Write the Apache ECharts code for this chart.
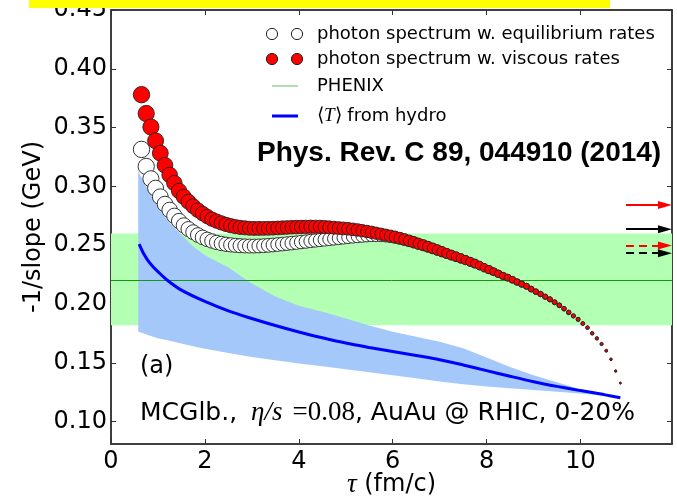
<!DOCTYPE html>
<html lang="en">
<head>
<meta charset="utf-8">
<title>-1/slope vs tau</title>
<script src="https://cdn.jsdelivr.net/npm/echarts@6.0.0/dist/echarts.min.js"></script>
<style>
  html, body { margin: 0; padding: 0; background: #fff; }
  #chart { width: 677px; height: 499px; }
</style>
</head>
<body>
<div id="chart"></div>
<script type="text/javascript">
// photon slopes, one point every 0.1 fm/c
var tauPts = [
  0.65,0.75,0.85,0.95,1.05,1.15,1.25,1.35,1.45,1.55,
  1.65,1.75,1.85,1.95,2.05,2.15,2.25,2.35,2.45,2.55,
  2.65,2.75,2.85,2.95,3.05,3.15,3.25,3.35,3.45,3.55,
  3.65,3.75,3.85,3.95,4.05,4.15,4.25,4.35,4.45,4.55,
  4.65,4.75,4.85,4.95,5.05,5.15,5.25,5.35,5.45,5.55,
  5.65,5.75,5.85,5.95,6.05,6.15,6.25,6.35,6.45,6.55,
  6.65,6.75,6.85,6.95,7.05,7.15,7.25,7.35,7.45,7.55,
  7.65,7.75,7.85,7.95,8.05,8.15,8.25,8.35,8.45,8.55,
  8.65,8.75,8.85,8.95,9.05,9.15,9.25,9.35,9.45,9.55,
  9.65,9.75,9.85,9.95,10.05,10.15,10.25,10.35,10.45,10.55,
  10.65,10.75,10.85
];
var viscousRates = [
  0.378,0.362,0.3505,0.3388,0.3283,0.3180,0.3098,0.3028,0.2962,0.2912,
  0.2870,0.2832,0.2798,0.2770,0.2744,0.2722,0.2705,0.2690,0.2677,0.2666,
  0.2658,0.2652,0.2648,0.2644,0.2643,0.2643,0.2643,0.2644,0.2645,0.2647,
  0.2649,0.2651,0.2653,0.2654,0.2655,0.2656,0.2657,0.2657,0.2657,0.2655,
  0.2652,0.2649,0.2646,0.2643,0.2640,0.2635,0.2630,0.2624,0.2617,0.2610,
  0.2602,0.2594,0.2586,0.2578,0.2570,0.2560,0.2549,0.2538,0.2526,0.2513,
  0.2501,0.2488,0.2474,0.2460,0.2446,0.2431,0.2417,0.2403,0.2389,0.2375,
  0.2360,0.2345,0.2328,0.2310,0.2293,0.2276,0.2258,0.2240,0.2225,0.2207,
  0.2188,0.2170,0.2152,0.2128,0.2106,0.2086,0.2063,0.2041,0.2016,0.1990,
  0.1961,0.1930,0.1900,0.1871,0.1835,0.1800,0.1752,0.1709,0.1661,0.1604,
  0.1531,0.1431,0.1329
];
var equilRates = [
  0.3315,0.3170,0.3065,0.2985,0.2912,0.2850,0.2800,0.2750,0.2706,0.2669,
  0.2638,0.2611,0.2587,0.2567,0.2550,0.2536,0.2524,0.2515,0.2508,0.2503,
  0.2499,0.2496,0.2494,0.2493,0.2493,0.2494,0.2496,0.2499,0.2502,0.2506,
  0.2510,0.2514,0.2518,0.2522,0.2527,0.2531,0.2536,0.2540,0.2544,0.2548,
  0.2552,0.2556,0.2560,0.2564,0.2568,0.2572,0.2575,0.2578,0.2581,0.2583,
  0.2583,0.2582,0.2579,0.2574,0.2567,0.2558,0.2547,0.2536,0.2524,0.2511,
  0.2499,0.2486,0.2472,0.2458,0.2444,0.2429,0.2415,0.2401,0.2387,0.2373,
  0.2358,0.2343,0.2326,0.2308,0.2291,0.2274,0.2256,0.2238,0.2223,0.2205,
  0.2186,0.2168,0.2150,0.2126,0.2104,0.2084,0.2061,0.2039,0.2014,0.1988,
  0.1959,0.1928,0.1898,0.1869,0.1833,0.1798,0.1750,0.1707,0.1659,0.1602,
  0.1529,0.1429,0.1327
];

// <T> from hydro and its spread
var hydroTau = [0.6,0.7,0.8,0.9,1.0,1.2,1.5,2.0,2.5,3.0,3.5,4.0,4.5,5.0,5.5,6.0,6.5,7.0,7.5,8.0,8.5,9.0,9.5,10.0,10.5,10.85];
var hydroT   = [0.251,0.2425,0.2362,0.2315,0.2275,0.2202,0.2118,0.2022,0.1942,0.1877,0.1817,0.1762,0.1713,0.1668,0.1631,0.1597,0.1563,0.1527,0.1482,0.1434,0.1386,0.1340,0.1300,0.1264,0.1230,0.1204];
var bandTau = [0.58,0.8,1.0,1.25,1.5,1.75,2.0,2.5,3.0,3.5,4.0,4.5,5.0,5.5,6.0,6.5,7.0,7.5,8.0,8.5,9.0,9.5,10.0,10.5,10.85];
var bandHi  = [0.313,0.296,0.282,0.269,0.259,0.249,0.2415,0.231,0.2175,0.2065,0.1985,0.1935,0.1878,0.1818,0.1765,0.1722,0.1680,0.1625,0.1545,0.1465,0.1395,0.1335,0.1275,0.1235,0.1206];
var bandLo  = [0.1766,0.1735,0.171,0.1688,0.1665,0.1642,0.162,0.1583,0.155,0.1522,0.1495,0.147,0.1445,0.142,0.1395,0.137,0.1342,0.1318,0.1298,0.1283,0.127,0.1255,0.124,0.122,0.1205];

// PHENIX measurement
var phenixMid = 0.221;
var phenixLo = 0.182;
var phenixHi = 0.260;

// arrows on the right edge
var arrowVals = [0.2843, 0.2636, 0.2497, 0.2432];
var arrowFrom = 10.97;
var arrowTo = 11.8;

var xTicks = [0, 2, 4, 6, 8, 10];
var yTicks = [0.10, 0.15, 0.20, 0.25, 0.30, 0.35, 0.40, 0.45];

// marker size shrinks with tau (style only)
var sizeStops = [[0.6,16.5],[2,14.5],[4,13.5],[6,12],[7,10.3],[8,8.2],[8.5,6.8],[9,5.7],[9.5,4.8],[10,3.8],[10.5,2.9],[10.9,1.7]];
function dotSize(val) {
    var t = val[0];
    for (var i = 1; i < sizeStops.length; i++) {
        if (t <= sizeStops[i][0]) {
            var a = sizeStops[i - 1], b = sizeStops[i];
            return a[1] + (b[1] - a[1]) * (t - a[0]) / (b[0] - a[0]);
        }
    }
    return sizeStops[sizeStops.length - 1][1];
}
function pairs(xs, ys) {
    return xs.map(function (x, i) { return [x, ys[i]]; });
}

var arrowColors = ['#ff0000', '#000000', '#ff0000', '#000000'];
var arrowDashed = [false, false, true, true];

var axisColor = '#333';
var SANS = 'DejaVu Sans';
var SERIF = 'Liberation Serif';

function frameX(pos, showLabel) {
    return {
        type: 'value', position: pos, min: 0, max: 11.95,
        axisLine: { show: true, onZero: false, lineStyle: { color: axisColor, width: 1.5 } },
        axisTick: { show: true, inside: true, length: 5, customValues: xTicks, lineStyle: { color: axisColor } },
        axisLabel: { show: showLabel, customValues: xTicks, fontSize: 24, fontFamily: SANS, color: '#000', margin: 6 },
        splitLine: { show: false }
    };
}
function frameY(pos, showLabel) {
    return {
        type: 'value', position: pos, min: 0.081, max: 0.45,
        axisLine: { show: true, onZero: false, lineStyle: { color: axisColor, width: 1.5 } },
        axisTick: { show: true, inside: true, length: 5, customValues: yTicks, lineStyle: { color: axisColor } },
        axisLabel: {
            show: showLabel, customValues: yTicks, fontSize: 24, fontFamily: SANS, color: '#000', margin: 4,
            formatter: function (v) { return v.toFixed(2); }
        },
        splitLine: { show: false }
    };
}

var xBottom = frameX('bottom', true);
xBottom.name = '{it|τ} (fm/c)';
xBottom.nameLocation = 'middle';
xBottom.nameGap = 27;
xBottom.nameMoveOverlap = false;
xBottom.nameTextStyle = {
    fontSize: 24, fontFamily: SANS, color: '#000',
    rich: { it: { fontSize: 27, fontFamily: SERIF, fontStyle: 'italic', color: '#000' } }
};
var yLeft = frameY('left', true);
yLeft.name = '-1/slope (GeV)';
yLeft.nameLocation = 'middle';
yLeft.nameGap = 65;
yLeft.nameMoveOverlap = false;
yLeft.nameTextStyle = { fontSize: 24, fontFamily: SANS, color: '#000' };

var legendRows = [
    { y: 34, kind: 'open', text: 'photon spectrum w. equilibrium rates' },
    { y: 59, kind: 'red', text: 'photon spectrum w. viscous rates' },
    { y: 86, kind: 'green', text: 'PHENIX' },
    { y: 116, kind: 'blue', text: '{r|⟨}{m|T}{r|⟩} from hydro' }
];
var graphics = [];
legendRows.forEach(function (row) {
    if (row.kind === 'open' || row.kind === 'red') {
        [272, 297].forEach(function (cx) {
            graphics.push({
                type: 'circle', shape: { cx: cx, cy: row.y, r: 5.6 },
                style: { fill: row.kind === 'red' ? '#ff0000' : '#fff', stroke: '#222', lineWidth: 1 }, z: 50
            });
        });
    } else {
        graphics.push({
            type: 'line', shape: { x1: 272, y1: row.y, x2: 298, y2: row.y },
            style: { stroke: row.kind === 'green' ? '#66bb66' : '#0000ff', lineWidth: row.kind === 'green' ? 1 : 3 }, z: 50
        });
    }
    graphics.push({
        type: 'text', x: 317, y: row.y, z: 50,
        style: {
            text: row.text, fontSize: 18, fontFamily: SANS, fill: '#000', verticalAlign: 'middle',
            rich: {
                m: { fontSize: 19, fontFamily: SERIF, fontStyle: 'italic', fill: '#000' },
                r: { fontSize: 19, fontFamily: SERIF, fill: '#000' }
            }
        }
    });
});
graphics.push({
    type: 'text', x: 257, y: 153, z: 50,
    style: { text: 'Phys. Rev. C 89, 044910 (2014)', fontSize: 28, fontWeight: 'bold', fontFamily: 'Liberation Sans', fill: '#000', verticalAlign: 'middle' }
});
graphics.push({
    type: 'text', x: 140, y: 367, z: 50,
    style: { text: '(a)', fontSize: 24, fontFamily: SANS, fill: '#000', verticalAlign: 'middle' }
});
graphics.push({
    type: 'text', x: 140, y: 413, z: 50,
    style: {
        text: 'MCGlb., {m|η/s} {e|=0.08}, AuAu @ RHIC, 0-20%',
        fontSize: 25, fontFamily: SANS, fill: '#000', verticalAlign: 'middle',
        rich: {
            m: { fontSize: 27, fontFamily: SERIF, fontStyle: 'italic', fill: '#000', padding: [0, 2, 0, 6] },
            e: { fontSize: 27, fontFamily: SERIF, fill: '#000' }
        }
    }
});
graphics.push({
    type: 'rect', shape: { x: 29, y: 0, width: 581, height: 8 },
    style: { fill: '#ffff00' }, z: 100
});

var chart = echarts.init(document.getElementById('chart'));
var option = {
    backgroundColor: '#fff',
    animation: false,
    grid: {
        left: 111, top: 10, right: 5, bottom: 55, containLabel: false, outerBoundsMode: 'none',
        show: true, backgroundColor: 'transparent', borderColor: axisColor, borderWidth: 1.5
    },
    xAxis: [xBottom, frameX('top', false)],
    yAxis: [yLeft, frameY('right', false)],
    graphic: graphics,
    series: [
        {
            name: 'PHENIX', type: 'line', data: [], z: 1,
            markArea: {
                silent: true, z: 1,
                itemStyle: { color: '#b3ffb3' },
                data: [[{ yAxis: phenixLo }, { yAxis: phenixHi }]]
            },
            markLine: {
                silent: true, z: 3, symbol: 'none', label: { show: false },
                lineStyle: { color: '#119911', width: 1, type: 'solid' },
                data: [{ yAxis: phenixMid }]
            }
        },
        {
            name: 'band', type: 'custom', z: 2, silent: true,
            data: bandTau.map(function (t, i) { return [t, bandLo[i], bandHi[i]]; }),
            encode: { x: 0, y: [1, 2] },
            renderItem: function (params, api) {
                if (params.dataIndex !== 0) return null;
                var pts = [];
                for (var i = 0; i < bandTau.length; i++) pts.push(api.coord([bandTau[i], bandHi[i]]));
                for (var j = bandTau.length - 1; j >= 0; j--) pts.push(api.coord([bandTau[j], bandLo[j]]));
                return { type: 'polygon', shape: { points: pts }, style: { fill: '#a4c8fa' } };
            }
        },
        {
            name: '<T> from hydro', type: 'line', z: 4, showSymbol: false, smooth: 0.3,
            data: pairs(hydroTau, hydroT),
            lineStyle: { color: '#0000ff', width: 3 }
        },
        {
            name: 'equilibrium', type: 'scatter', z: 5,
            data: pairs(tauPts, equilRates),
            symbolSize: dotSize,
            itemStyle: { color: '#ffffff', borderColor: '#333', borderWidth: 1, opacity: 1 }
        },
        {
            name: 'viscous', type: 'scatter', z: 6,
            data: pairs(tauPts, viscousRates),
            symbolSize: dotSize,
            itemStyle: { color: '#ff0000', borderColor: '#222', borderWidth: 0.9, opacity: 1 }
        },
        {
            name: 'arrows', type: 'line', data: [], z: 7, clip: false,
            markLine: {
                silent: true, z: 7, symbol: ['none', 'triangle'], symbolSize: [8, 14],
                label: { show: false },
                data: arrowVals.map(function (v, i) {
                    return [
                        {
                            coord: [arrowFrom, v],
                            lineStyle: { color: arrowColors[i], width: 2, type: arrowDashed[i] ? [8, 5] : 'solid' },
                            itemStyle: { color: arrowColors[i] }
                        },
                        { coord: [arrowTo, v] }
                    ];
                })
            }
        }
    ]
};
chart.setOption(option);
</script>
</body>
</html>
